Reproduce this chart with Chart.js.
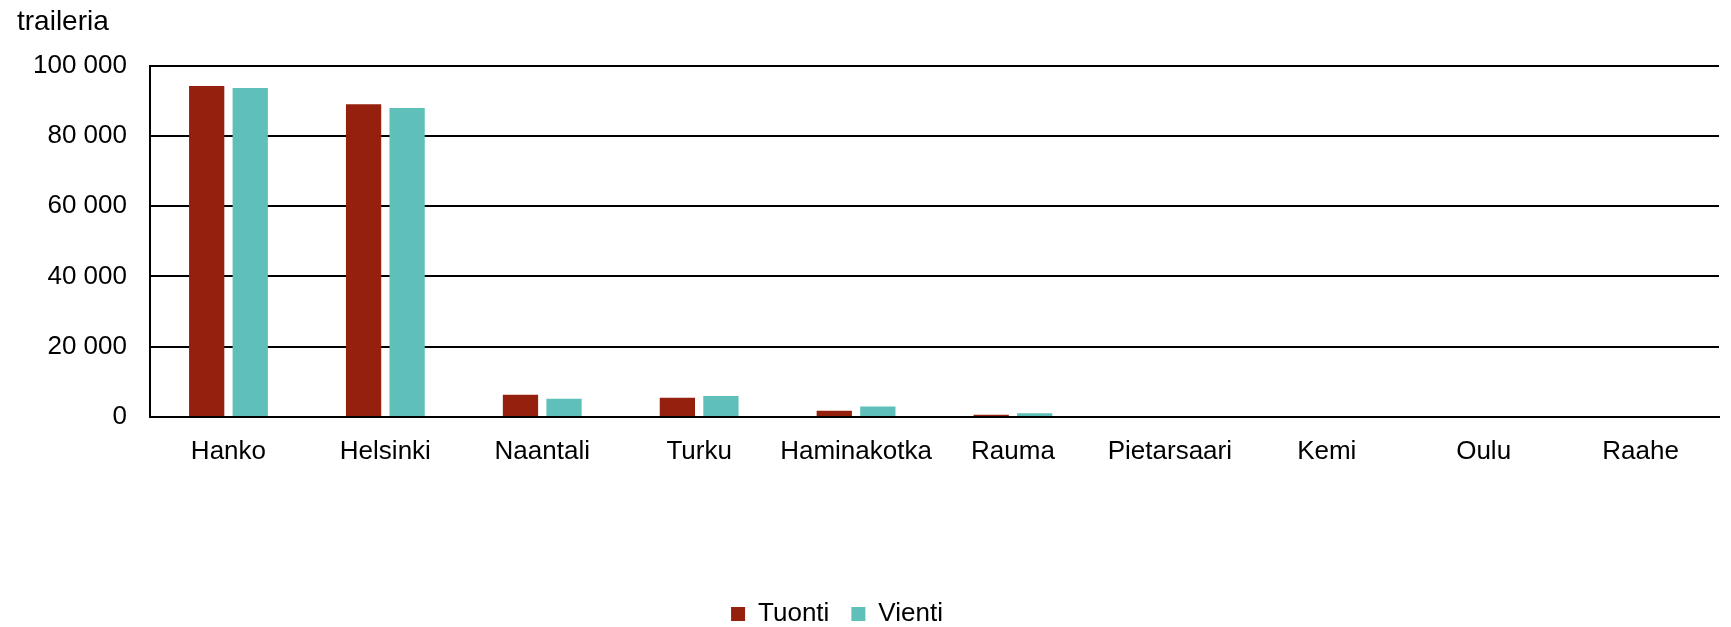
<!DOCTYPE html>
<html>
<head>
<meta charset="utf-8">
<script src="https://cdn.jsdelivr.net/npm/chart.js@4"></script>
<style>
  html, body { margin: 0; padding: 0; background: #fff; overflow: hidden; }
</style>
</head>
<body>
<canvas id="myChart1" width="1731" height="627"></canvas>
<script>
(() => {
    'use strict'

    // data
    const ports = ['Hanko', 'Helsinki', 'Naantali', 'Turku', 'Haminakotka', 'Rauma', 'Pietarsaari', 'Kemi', 'Oulu', 'Raahe']
    const tuonti = [94200, 89000, 6300, 5500, 1800, 650, 0, 0, 0, 0]
    const vienti = [93600, 87900, 5200, 6000, 3000, 1050, 0, 0, 0, 0]
    const yTicks = [0, 20000, 40000, 60000, 80000, 100000]

    const font = { family: '"Liberation Sans", Arial, sans-serif', size: 26 }

    // nudge legend left like the original
    const legendShift = {
        id: 'legendShift',
        afterUpdate(chart) {
            chart.legend.left -= 31
            chart.legend.right -= 31
        }
    }

    const ctx = document.getElementById('myChart1')
    const myChart = new Chart(ctx, {
        type: 'bar',
        data: {
            labels: ports,
            datasets: [{
                label: 'Tuonti',
                data: tuonti,
                backgroundColor: '#94200d',
                borderWidth: 0
            }, {
                label: 'Vienti',
                data: vienti,
                backgroundColor: '#5ec0b9',
                borderWidth: 0
            }]
        },
        options: {
            responsive: false,
            animation: false,
            categoryPercentage: 0.555,
            barPercentage: 0.81,
            layout: {
                padding: { left: 17, right: 12, top: 0, bottom: -10 }
            },
            scales: {
                x: {
                    grid: { display: false },
                    border: { color: '#000', width: 2 },
                    ticks: { color: '#000', font: font, padding: 11, maxRotation: 0 },
                    afterFit(scale) { scale.height = 162 }
                },
                y: {
                    min: 0,
                    max: 100000,
                    afterBuildTicks(scale) {
                        scale.ticks = yTicks.map(v => ({ value: v }))
                    },
                    grid: { color: '#000', lineWidth: 2, drawTicks: false },
                    border: { color: '#000', width: 2 },
                    ticks: {
                        color: '#000',
                        font: font,
                        padding: 23,
                        callback: v => String(v).replace(/\B(?=(\d{3})+(?!\d))/g, ' ')
                    },
                    afterFit(scale) { scale.width = 133 }
                }
            },
            plugins: {
                title: {
                    display: true,
                    text: 'traileria',
                    align: 'start',
                    color: '#000',
                    font: { family: font.family, size: 28, weight: 'normal' },
                    padding: { top: 5, bottom: 27 }
                },
                legend: {
                    position: 'bottom',
                    labels: {
                        color: '#000',
                        font: font,
                        boxWidth: 14,
                        boxHeight: 14,
                        padding: 22
                    }
                },
                tooltip: { enabled: false }
            }
        },
        plugins: [legendShift]
    })
})()
</script>
</body>
</html>
